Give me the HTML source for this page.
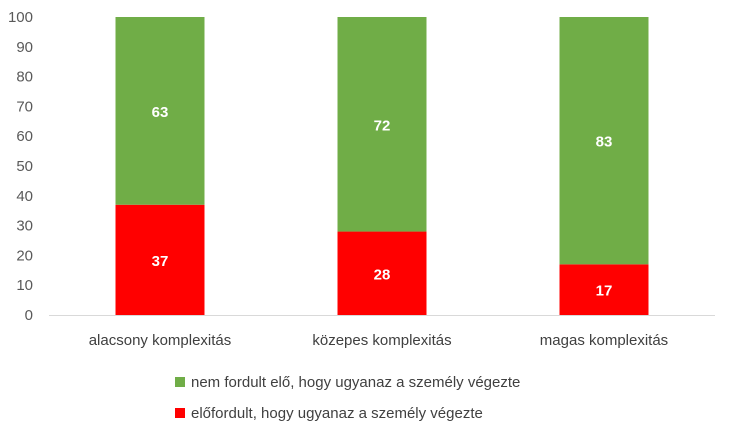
<!DOCTYPE html>
<html><head><meta charset="utf-8"><style>
body{margin:0;background:#fff;}
svg{display:block;font-family:"Liberation Sans",sans-serif;}
</style></head><body>
<svg id="chart" width="729" height="432"></svg>
<script>
const categories=["alacsony komplexitás","közepes komplexitás","magas komplexitás"];
const seriesRed=[37,28,17];
const seriesGreen=[63,72,83];
const yTicks=[0,10,20,30,40,50,60,70,80,90,100];
const legendLabels=["nem fordult elő, hogy ugyanaz a személy végezte","előfordult, hogy ugyanaz a személy végezte"];
const NS="http://www.w3.org/2000/svg";
const svg=document.getElementById('chart');
const x0=49,x1=715,yTop=17,yBot=315;
const y=v=>yBot-(v/100)*(yBot-yTop);
const band=(x1-x0)/categories.length;
const xc=i=>x0+band*(i+0.5);
const bw=89;
function mk(t,a){const e=document.createElementNS(NS,t);for(const k in a)e.setAttribute(k,a[k]);svg.appendChild(e);return e;}
yTicks.forEach(t=>{
  const e=mk('text',{x:33,y:y(t)+5,'text-anchor':'end','font-size':15,fill:'#595959'});
  
  
  e.textContent=t;
});
categories.forEach((c,i)=>{
  const r=mk('rect',{x:xc(i)-bw/2,y:y(seriesRed[i]),width:bw,height:yBot-y(seriesRed[i]),fill:'#FF0000'});
  
  
  const top=seriesRed[i]+seriesGreen[i];
  const g=mk('rect',{x:xc(i)-bw/2,y:y(top),width:bw,height:y(seriesRed[i])-y(top),fill:'#70AD47'});
  
  
  const lr=mk('text',{x:xc(i),y:(y(seriesRed[i])+yBot)/2+6,'text-anchor':'middle','font-size':15,'font-weight':'bold',fill:'#fff'});
  
  
  lr.textContent=seriesRed[i];
  const lg=mk('text',{x:xc(i),y:(y(top)+y(seriesRed[i]))/2+6,'text-anchor':'middle','font-size':15,'font-weight':'bold',fill:'#fff'});
  
  
  lg.textContent=seriesGreen[i];
  const cl=mk('text',{x:xc(i),y:345,'text-anchor':'middle','font-size':15,fill:'#404040'});
  
  
  cl.textContent=c;
});
const ax=mk('line',{x1:x0,x2:x1,y1:yBot+0.5,y2:yBot+0.5,stroke:'#D9D9D9','stroke-width':1});


const legColors=['#70AD47','#FF0000'];
legendLabels.forEach((l,i)=>{
  const ly=382+i*31;
  const s=mk('rect',{x:175,y:ly-5,width:10,height:10,fill:legColors[i]});
  
  
  const t=mk('text',{x:191,y:ly+5,'font-size':15,fill:'#404040'});
  
  
  t.textContent=l;
});
</script>
</body></html>
